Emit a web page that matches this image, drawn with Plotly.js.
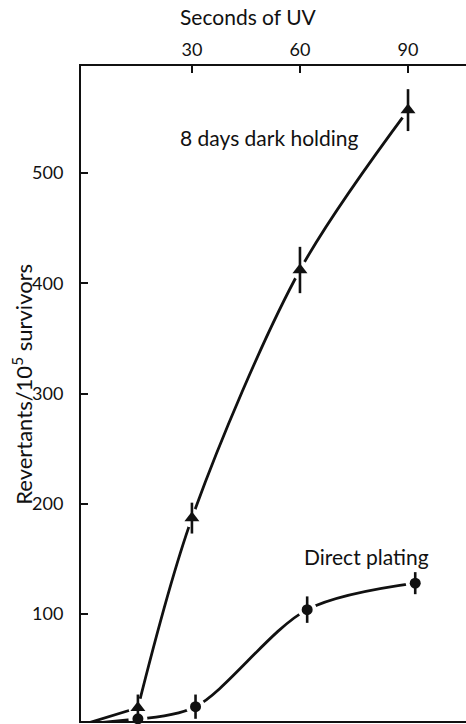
<!DOCTYPE html>
<html>
<head>
<meta charset="utf-8">
<script src="https://cdn.plot.ly/plotly-3.0.1.min.js"></script>
<style>
  html, body { margin: 0; padding: 0; background: #fff; }
  #chart { width: 466px; height: 724px; }
</style>
</head>
<body>
<div id="chart"></div>
<script>
// UV dose (seconds) and revertant counts per 10^5 survivors
const darkSeconds    = [0, 15, 30, 60, 90];
const darkRevertants = [0, 15, 187, 412, 557];
const darkError      = [0, 12, 14, 21, 19];

const directSeconds    = [0, 15, 31, 62, 92];
const directRevertants = [0, 5, 16, 104, 128];
const directError      = [0, 0, 11, 12, 10];

const xTicks = [30, 60, 90];
const yTicks = [100, 200, 300, 400, 500];

const FONT = 'Lato, "Open Sans", "DejaVu Sans", sans-serif';
const INK = '#111';
const LINE_W = 2.8;

// straight rise from the origin to the first dose
function firstLeg(xs, ys) {
  return {
    x: xs.slice(0, 2), y: ys.slice(0, 2), type: 'scatter', mode: 'lines',
    line: { color: INK, width: LINE_W },
    hoverinfo: 'skip', showlegend: false
  };
}
// smooth curve through the remaining points
function curve(xs, ys) {
  return {
    x: xs.slice(1), y: ys.slice(1), type: 'scatter', mode: 'lines',
    line: { color: INK, width: LINE_W, shape: 'spline', smoothing: 0.9 },
    hoverinfo: 'skip', showlegend: false
  };
}
// white halo so the curve stops short of each symbol
function halo(xs, ys) {
  return {
    x: xs.slice(1), y: ys.slice(1), type: 'scatter', mode: 'markers',
    marker: { symbol: 'circle', size: 19, color: '#fff' },
    cliponaxis: false, hoverinfo: 'skip', showlegend: false
  };
}
function points(xs, ys, errs, symbol, size) {
  return {
    x: xs.slice(1), y: ys.slice(1), type: 'scatter', mode: 'markers',
    marker: { symbol: symbol, size: size, color: INK },
    error_y: { type: 'data', array: errs.slice(1), visible: true,
               color: INK, thickness: 2.6, width: 0 },
    cliponaxis: false, showlegend: false
  };
}

const data = [
  firstLeg(darkSeconds, darkRevertants),
  curve(darkSeconds, darkRevertants),
  firstLeg(directSeconds, directRevertants),
  curve(directSeconds, directRevertants),
  halo(darkSeconds, darkRevertants),
  halo(directSeconds, directRevertants),
  points(darkSeconds, darkRevertants, darkError, 'triangle-up', 13),
  points(directSeconds, directRevertants, directError, 'circle', 11)
];

const layout = {
  width: 466, height: 724,
  margin: { l: 81, r: 0, t: 66, b: 3, pad: 0 },
  paper_bgcolor: '#fff', plot_bgcolor: '#fff',
  font: { family: FONT, size: 18, color: INK },
  title: {
    text: 'Seconds of UV',
    x: 0.532, xanchor: 'center', xref: 'container',
    y: 0.975, yanchor: 'middle', yref: 'container',
    font: { family: FONT, size: 21, color: INK }
  },
  xaxis: {
    side: 'top', range: [-0.8, 106.1],
    tickvals: xTicks, ticktext: xTicks.map(String),
    ticks: 'inside', ticklen: 7, tickwidth: 2, tickcolor: INK,
    showline: true, linewidth: 2, linecolor: INK, mirror: true,
    showgrid: false, zeroline: false, automargin: false,
    ticklabelstandoff: 1,
    tickfont: { family: FONT, size: 18, color: INK }
  },
  yaxis: {
    range: [3, 597],
    tickvals: yTicks, ticktext: yTicks.map(String),
    ticks: 'inside', ticklen: 7, tickwidth: 2, tickcolor: INK,
    showline: true, linewidth: 2, linecolor: INK, mirror: false,
    showgrid: false, zeroline: false, automargin: false,
    ticklabelstandoff: 12,
    tickfont: { family: FONT, size: 18, color: INK }
  },
  annotations: [
    { text: 'Revertants/10<sup>5</sup> survivors', textangle: -90,
      xref: 'paper', yref: 'paper', x: -0.152, y: 0.514,
      xanchor: 'center', yanchor: 'middle', showarrow: false,
      font: { family: FONT, size: 22, color: INK } },
    { text: '8 days dark holding', xref: 'x', yref: 'y',
      x: 51.5, y: 532, xanchor: 'center', yanchor: 'middle', showarrow: false,
      font: { family: FONT, size: 21, color: INK } },
    { text: 'Direct plating', xref: 'x', yref: 'y',
      x: 78.5, y: 152, xanchor: 'center', yanchor: 'middle', showarrow: false,
      font: { family: FONT, size: 21, color: INK } }
  ]
};

Plotly.newPlot('chart', data, layout, { displayModeBar: false, staticPlot: true });
</script>
</body>
</html>
